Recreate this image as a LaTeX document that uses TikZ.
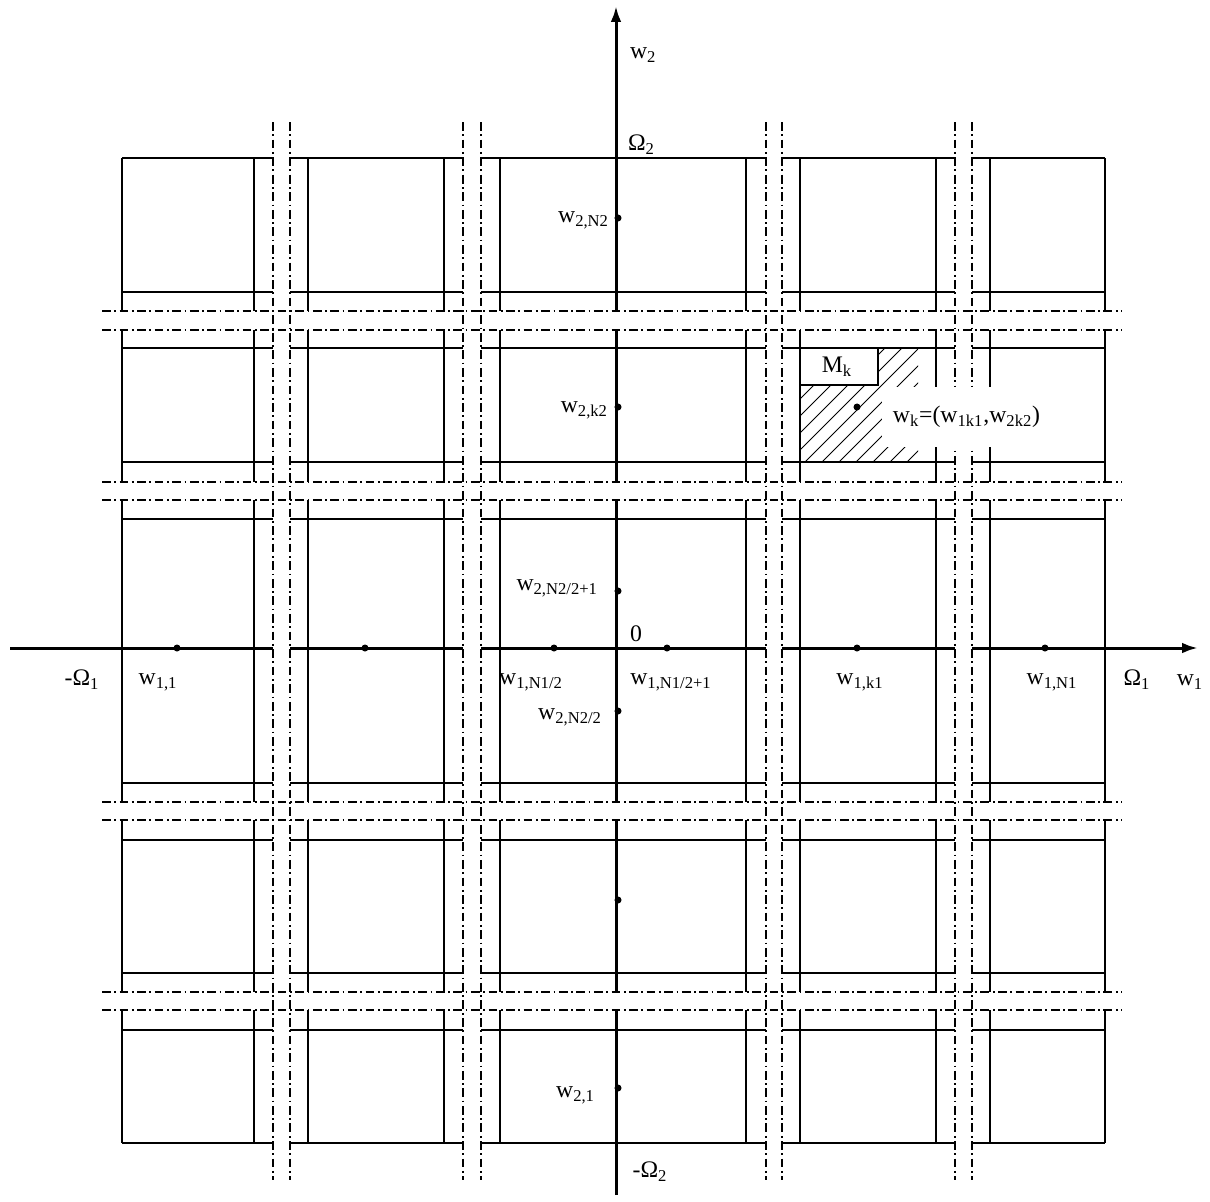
\documentclass[tikz,border=0pt]{standalone}
\usepackage{fontspec}
\setmainfont{Liberation Serif}
\usetikzlibrary{arrows.meta}

\tikzset{cell/.style={line width=1.1pt},
  gapline/.style={line width=.6pt,dash pattern=on 5pt off 2pt on 1pt off 2pt},
  axis/.style={line width=1.7pt},
  hatch/.style={line width=.5pt},
  lab/.style={inner sep=1pt,font=\fontsize{13.5}{15}\selectfont}}

\begin{document}
\begin{tikzpicture}[x=0.02cm,y=-0.02cm]
  \useasboundingbox (0,0) rectangle (1210,1201);
  % dash-dot strips between the cells
  \foreach \x in {273,290,463,481,766,782,955,972} \draw[gapline] (\x,122)--(\x,1180);
  \foreach \y in {311,330,482,500,802,820,992,1010} \draw[gapline] (102,\y)--(1122,\y);
  % cell borders, broken at the strips
  \foreach \y in {158,292,348,462,519,783,840,973,1030,1143}
    \foreach \a/\b in {122/273,290/463,481/766,782/955,972/1105} \draw[cell] (\a,\y)--(\b,\y);
  \foreach \x in {122,254,308,444,500,746,800,936,990,1105}
    \foreach \a/\b in {158/311,330/482,500/802,820/992,1010/1143} \draw[cell] (\x,\a)--(\x,\b);
  % axes
  \foreach \a/\b in {10/273,290/463,481/766,782/955} \draw[axis] (\a,648)--(\b,648);
  \draw[axis,-{Latex[length=9pt,width=6pt]}] (972,648)--(1198,648);
  \foreach \a/\b in {1195/1010,992/820,802/500,482/330} \draw[axis] (616,\a)--(616,\b);
  \draw[axis,-{Latex[length=9pt,width=6pt]}] (616,311)--(616,6);
  \foreach \x in {177,365,554,667,857,1045} \fill (\x,648) circle (2pt);
  \foreach \y in {218,407,591,711,900,1088} \fill (618,\y) circle (2pt);
  % hatched cell with M_k
  \begin{scope}
    \clip (800,348) rectangle (918,462);
    \foreach \x in {686,703,...,918} \draw[hatch] (\x,462)--++(114,-114);
  \end{scope}
  \draw[cell,fill=white] (800,348) rectangle (878,385);
  \node[lab] (mk) at (837,367) {M\textsubscript{k}};
  \fill (857,407) circle (2pt);
  \node[lab,fill=white,inner xsep=6pt,inner ysep=11pt,anchor=west] (wk) at (882,417) {w\textsubscript{k}=(w\textsubscript{1k1},w\textsubscript{2k2})};
  % labels
  \node[lab,anchor=west] (w2) at (628,55) {w\textsubscript{2}};
  \node[lab,anchor=west] (om2) at (626,145) {Ω\textsubscript{2}};
  \node[lab,anchor=east] (w2n2) at (611,220) {w\textsubscript{2,N2}};
  \node[lab,anchor=east] (w2k2) at (610,410) {w\textsubscript{2,k2}};
  \node[lab,anchor=east] (w2h1) at (600,588) {w\textsubscript{2,N2/2+1}};
  \node[lab] (zero) at (636,634) {0};
  \node[lab] (w1h) at (531,682) {w\textsubscript{1,N1/2}};
  \node[lab] (w1h1) at (671,682) {w\textsubscript{1,N1/2+1}};
  \node[lab,anchor=east] (w2h) at (604,717) {w\textsubscript{2,N2/2}};
  \node[lab] (mom1) at (82,680) {-Ω\textsubscript{1}};
  \node[lab] (w11) at (158,682) {w\textsubscript{1,1}};
  \node[lab] (w1k1) at (860,682) {w\textsubscript{1,k1}};
  \node[lab] (w1n1) at (1052,682) {w\textsubscript{1,N1}};
  \node[lab] (om1) at (1137,680) {Ω\textsubscript{1}};
  \node[lab] (w1) at (1190,682) {w\textsubscript{1}};
  \node[lab,anchor=east] (w21) at (597,1095) {w\textsubscript{2,1}};
  \node[lab] (mom2) at (650,1172) {-Ω\textsubscript{2}};
\end{tikzpicture}
\end{document}
